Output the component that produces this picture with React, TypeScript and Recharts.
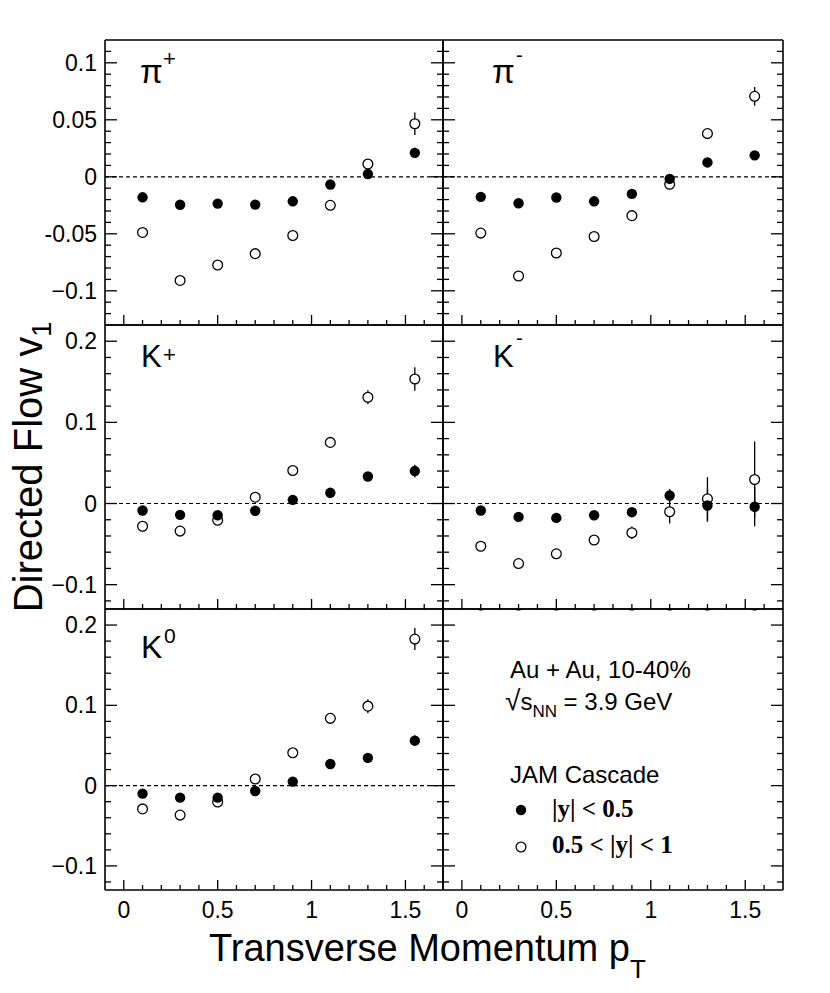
import { ErrorBar, ReferenceLine, Scatter, ScatterChart, XAxis, YAxis } from 'recharts';

// transverse momentum bin centres
const pt = [0.1, 0.3, 0.5, 0.7, 0.9, 1.1, 1.3, 1.55];

// |y| < 0.5 ("mid") and 0.5 < |y| < 1 ("fwd"), v1 values and stat errors
const piPlusMid = [-0.018, -0.0245, -0.0235, -0.0244, -0.0215, -0.0068, 0.0024, 0.021];
const piPlusMidErr = [0.002, 0.002, 0.002, 0.002, 0.002, 0.002, 0.002, 0.0045];
const piPlusFwd = [-0.0488, -0.0909, -0.0774, -0.0674, -0.0515, -0.025, 0.0112, 0.0465];
const piPlusFwdErr = [0.003, 0.003, 0.003, 0.003, 0.003, 0.003, 0.004, 0.0098];

const piMinusMid = [-0.0176, -0.0232, -0.0182, -0.0215, -0.015, -0.0018, 0.0126, 0.0188];
const piMinusMidErr = [0.002, 0.002, 0.002, 0.002, 0.002, 0.002, 0.002, 0.003];
const piMinusFwd = [-0.0494, -0.087, -0.0668, -0.0524, -0.0341, -0.0065, 0.0379, 0.0706];
const piMinusFwdErr = [0.003, 0.003, 0.003, 0.003, 0.003, 0.003, 0.004, 0.0082];

const kPlusMid = [-0.0086, -0.014, -0.0144, -0.009, 0.0045, 0.0132, 0.0333, 0.04];
const kPlusMidErr = [0.002, 0.002, 0.002, 0.002, 0.002, 0.002, 0.003, 0.0078];
const kPlusFwd = [-0.028, -0.034, -0.0206, 0.0078, 0.0407, 0.0753, 0.1309, 0.1535];
const kPlusFwdErr = [0.003, 0.003, 0.003, 0.003, 0.003, 0.004, 0.0086, 0.0144];

const kMinusMid = [-0.0086, -0.0165, -0.0177, -0.0144, -0.0107, 0.0099, -0.0025, -0.004];
const kMinusMidErr = [0.003, 0.003, 0.003, 0.003, 0.003, 0.008, 0.02, 0.024];
const kMinusFwd = [-0.0527, -0.074, -0.062, -0.045, -0.036, -0.0102, 0.0058, 0.0296];
const kMinusFwdErr = [0.003, 0.004, 0.004, 0.004, 0.0078, 0.0144, 0.0266, 0.0467];

const kZeroMid = [-0.01, -0.015, -0.015, -0.0067, 0.005, 0.027, 0.0346, 0.056];
const kZeroMidErr = [0.002, 0.002, 0.002, 0.002, 0.002, 0.003, 0.003, 0.0067];
const kZeroFwd = [-0.029, -0.0367, -0.0204, 0.0083, 0.041, 0.0838, 0.099, 0.1825];
const kZeroFwdErr = [0.003, 0.003, 0.003, 0.003, 0.003, 0.004, 0.0087, 0.0137];

// axes
const xTicks = [0, 0.1, 0.2, 0.3, 0.4, 0.5, 0.6, 0.7, 0.8, 0.9, 1, 1.1, 1.2, 1.3, 1.4, 1.5, 1.6];
const xMajors = [0, 0.5, 1, 1.5];
const xLabels = ['0', '0.5', '1', '1.5'];

const piTicks = [
  -0.12, -0.11, -0.1, -0.09, -0.08, -0.07, -0.06, -0.05, -0.04, -0.03, -0.02, -0.01,
  0, 0.01, 0.02, 0.03, 0.04, 0.05, 0.06, 0.07, 0.08, 0.09, 0.1, 0.11,
];
const piMajors = [-0.1, -0.05, 0, 0.05, 0.1];
const piLabels = ['\u22120.1', '-0.05', '0', '0.05', '0.1'];

const kTicks = [-0.12, -0.1, -0.08, -0.06, -0.04, -0.02, 0, 0.02, 0.04, 0.06, 0.08, 0.1, 0.12, 0.14, 0.16, 0.18, 0.2];
const kMajors = [-0.1, 0, 0.1, 0.2];
const kLabels = ['\u22120.1', '0', '0.1', '0.2'];

const SANS = '"Liberation Sans", Arial, Helvetica, sans-serif';
const SERIF = '"Liberation Serif", "Times New Roman", serif';

const toPoints = (ys: number[], errs: number[]) => pt.map((x, i) => ({ x, y: ys[i], err: errs[i] }));

const isIn = (list: number[], v: number) => list.findIndex((m) => Math.abs(m - v) < 1e-9);

function makeTick(side: 'top' | 'bottom' | 'left' | 'right', majors: number[], labels: string[] | null) {
  return (props: any) => {
    const { x, y, payload } = props;
    const idx = isIn(majors, payload.value);
    const major = idx >= 0;
    const vert = side === 'top' || side === 'bottom';
    const len = vert ? (major ? 10 : 5) : major ? 12 : 6;
    let x2 = x;
    let y2 = y;
    if (side === 'bottom') y2 = y - len;
    if (side === 'top') y2 = y + len;
    if (side === 'left') x2 = x + len;
    if (side === 'right') x2 = x - len;
    return (
      <g>
        <line x1={x} y1={y} x2={x2} y2={y2} stroke="#000" strokeWidth={1.3} />
        {labels && major && side === 'bottom' && (
          <text x={x} y={y + 28} textAnchor="middle" fontSize={23} fontFamily={SANS} fill="#000">
            {labels[idx]}
          </text>
        )}
        {labels && major && side === 'left' && (
          <text x={x - 8} y={y + 8} textAnchor="end" fontSize={23} fontFamily={SANS} fill="#000">
            {labels[idx]}
          </text>
        )}
      </g>
    );
  };
}

const FilledDot = (p: any) => <circle cx={p.cx} cy={p.cy} r={5.2} fill="#000" />;
const OpenDot = (p: any) => (
  <circle cx={p.cx} cy={p.cy} r={4.9} fill="#fff" stroke="#000" strokeWidth={1.3} />
);

type PanelProps = {
  left: number;
  top: number;
  w: number;
  h: number;
  yDomain: [number, number];
  yTicks: number[];
  yMajors: number[];
  yLabels: string[];
  showY: boolean;
  showX: boolean;
  zeroLine: boolean;
  mid: number[];
  midErr: number[];
  fwd: number[];
  fwdErr: number[];
};

// each axis takes 1px of room (a zero-size axis is not drawn), so margins are 1px smaller
function Panel(p: PanelProps) {
  const pad = { top: 4, right: 4, bottom: p.showX ? 40 : 4, left: p.showY ? 100 : 4 };
  const margin = { top: pad.top - 1, right: pad.right - 1, bottom: pad.bottom - 1, left: pad.left - 1 };
  const axisLine = { stroke: '#000', strokeWidth: 1.6 };
  return (
    <div style={{ position: 'absolute', left: p.left - pad.left, top: p.top - pad.top }}>
      <ScatterChart
        width={p.w + pad.left + pad.right}
        height={p.h + pad.top + pad.bottom}
        margin={margin}
      >
        <XAxis
          xAxisId="b"
          dataKey="x"
          type="number"
          domain={[-0.1, 1.7]}
          ticks={xTicks}
          interval={0}
          height={1}
          tickSize={0}
          tickMargin={0}
          axisLine={axisLine}
          allowDataOverflow
          tick={makeTick('bottom', xMajors, p.showX ? xLabels : null)}
        />
        <XAxis
          xAxisId="t"
          orientation="top"
          type="number"
          domain={[-0.1, 1.7]}
          ticks={xTicks}
          interval={0}
          height={1}
          tickSize={0}
          tickMargin={0}
          axisLine={axisLine}
          allowDataOverflow
          tick={makeTick('top', xMajors, null)}
        />
        <YAxis
          yAxisId="l"
          dataKey="y"
          type="number"
          domain={p.yDomain}
          ticks={p.yTicks}
          interval={0}
          width={1}
          tickSize={0}
          tickMargin={0}
          axisLine={axisLine}
          allowDataOverflow
          tick={makeTick('left', p.yMajors, p.showY ? p.yLabels : null)}
        />
        <YAxis
          yAxisId="r"
          orientation="right"
          type="number"
          domain={p.yDomain}
          ticks={p.yTicks}
          interval={0}
          width={1}
          tickSize={0}
          tickMargin={0}
          axisLine={axisLine}
          allowDataOverflow
          tick={makeTick('right', p.yMajors, null)}
        />
        {p.zeroLine && (
          <ReferenceLine xAxisId="b" yAxisId="l" y={0} stroke="#000" strokeWidth={1.2} strokeDasharray="4 3" />
        )}
        <Scatter
          xAxisId="b"
          yAxisId="l"
          data={toPoints(p.fwd, p.fwdErr)}
          shape={OpenDot}
          isAnimationActive={false}
        >
          <ErrorBar dataKey="err" direction="y" width={0} stroke="#000" strokeWidth={1.3} />
        </Scatter>
        <Scatter
          xAxisId="b"
          yAxisId="l"
          data={toPoints(p.mid, p.midErr)}
          shape={FilledDot}
          isAnimationActive={false}
        >
          <ErrorBar dataKey="err" direction="y" width={0} stroke="#000" strokeWidth={1.3} />
        </Scatter>
      </ScatterChart>
    </div>
  );
}

const colX = [105, 443];
const colW = [338, 340];
const rowY = [40, 325, 609];
const rowH = [285, 284, 281];
const piDomain: [number, number] = [-0.13, 0.12];
const kDomain: [number, number] = [-0.13, 0.22];

export default function App() {
  const piAxis = { yDomain: piDomain, yTicks: piTicks, yMajors: piMajors, yLabels: piLabels };
  const kAxis = { yDomain: kDomain, yTicks: kTicks, yMajors: kMajors, yLabels: kLabels };
  return (
    <div style={{ position: 'absolute', left: 0, top: 0, width: 830, height: 993, background: '#fff' }}>
      <Panel left={colX[0]} top={rowY[0]} w={colW[0]} h={rowH[0]} {...piAxis} showY showX={false} zeroLine
        mid={piPlusMid} midErr={piPlusMidErr} fwd={piPlusFwd} fwdErr={piPlusFwdErr} />
      <Panel left={colX[1]} top={rowY[0]} w={colW[1]} h={rowH[0]} {...piAxis} showY={false} showX={false} zeroLine
        mid={piMinusMid} midErr={piMinusMidErr} fwd={piMinusFwd} fwdErr={piMinusFwdErr} />
      <Panel left={colX[0]} top={rowY[1]} w={colW[0]} h={rowH[1]} {...kAxis} showY showX={false} zeroLine
        mid={kPlusMid} midErr={kPlusMidErr} fwd={kPlusFwd} fwdErr={kPlusFwdErr} />
      <Panel left={colX[1]} top={rowY[1]} w={colW[1]} h={rowH[1]} {...kAxis} showY={false} showX={false} zeroLine
        mid={kMinusMid} midErr={kMinusMidErr} fwd={kMinusFwd} fwdErr={kMinusFwdErr} />
      <Panel left={colX[0]} top={rowY[2]} w={colW[0]} h={rowH[2]} {...kAxis} showY showX zeroLine
        mid={kZeroMid} midErr={kZeroMidErr} fwd={kZeroFwd} fwdErr={kZeroFwdErr} />
      <Panel left={colX[1]} top={rowY[2]} w={colW[1]} h={rowH[2]} {...kAxis} showY={false} showX zeroLine={false}
        mid={[]} midErr={[]} fwd={[]} fwdErr={[]} />

      <svg width={830} height={993} style={{ position: 'absolute', left: 0, top: 0, pointerEvents: 'none' }}>
        <g fontFamily={SANS} fill="#000">
          {/* panel labels */}
          <text x={140} y={83} fontSize={33}>π</text>
          <text x={163} y={66} fontSize={22}>+</text>
          <text x={492} y={83} fontSize={33}>π</text>
          <text x={516} y={62} fontSize={20}>-</text>
          <text x={141} y={367} fontSize={31}>K</text>
          <text x={163} y={362} fontSize={22}>+</text>
          <text x={493} y={367} fontSize={31}>K</text>
          <text x={516} y={345} fontSize={20}>-</text>
          <text x={141} y={658} fontSize={32}>K</text>
          <text x={164} y={643} fontSize={21}>0</text>

          {/* axis titles */}
          <text transform="translate(42 467) rotate(-90)" textAnchor="middle" fontSize={40}>
            Directed Flow v<tspan fontSize={27} dy={9}>1</tspan>
          </text>
          <text x={209} y={961} fontSize={38}>
            Transverse Momentum p<tspan fontSize={26} dy={17}>T</tspan>
          </text>

          {/* legend */}
          <text x={510} y={678} fontSize={24}>Au + Au, 10-40%</text>
          <text x={505} y={710} fontSize={24}>
            <tspan fontSize={28}>√</tspan>
            <tspan>s</tspan>
            <tspan fontSize={17} dy={7}>NN</tspan>
            <tspan dy={-7}> = 3.9 GeV</tspan>
          </text>
          <text x={510} y={783} fontSize={24}>JAM Cascade</text>
          <circle cx={521} cy={810} r={5.2} fill="#000" />
          <text x={552} y={817} fontSize={25} fontFamily={SERIF} fontWeight="bold">|y| &lt; 0.5</text>
          <circle cx={521} cy={847} r={4.9} fill="#fff" stroke="#000" strokeWidth={1.3} />
          <text x={552} y={853} fontSize={25} fontFamily={SERIF} fontWeight="bold">0.5 &lt; |y| &lt; 1</text>
        </g>
      </svg>
    </div>
  );
}
